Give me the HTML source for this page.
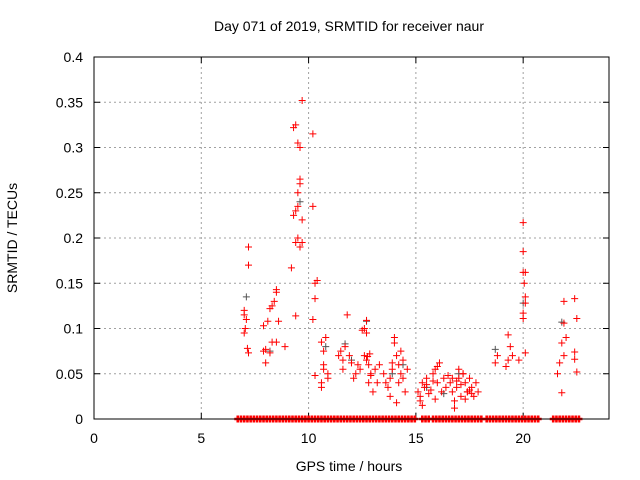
<!DOCTYPE html>
<html><head><meta charset="utf-8"><style>
body{margin:0;background:#fff;}
svg{display:block;font-family:"Liberation Sans",sans-serif;}
</style></head><body>
<svg id="chart" width="640" height="480">
<text x="349" y="31" text-anchor="middle" font-size="14">Day 071 of 2019, SRMTID for receiver naur</text>
<text x="349" y="471" text-anchor="middle" font-size="14">GPS time / hours</text>
<text transform="translate(17,238) rotate(-90)" text-anchor="middle" font-size="14">SRMTID / TECUs</text>
<g id="grid"></g><g id="ticks"></g><g id="grayPts"></g><g id="redPts"></g>
<rect x="94" y="57" width="515" height="362" fill="none" stroke="#000" stroke-width="1"/>
</svg>
<script>
const xTicks=[0,5,10,15,20];
const yTicks=[0,0.05,0.1,0.15,0.2,0.25,0.3,0.35,0.4];
const yTickLabels=["0","0.05","0.1","0.15","0.2","0.25","0.3","0.35","0.4"];
const grayHours=[7.1,9.6,8.2,10.8,11.7,12.7,13.9,14.4,16.3,17.0,18.7,20.0,21.8,12.0,15.5];
const grayValues=[0.135,0.24,0.075,0.08,0.083,0.108,0.05,0.06,0.028,0.05,0.077,0.128,0.107,0.065,0.035];
const redHours=[7.0,7.0,7.05,7.0,7.1,7.2,7.2,7.15,7.2,
7.9,8.0,7.9,8.1,8.2,8.3,8.4,8.5,8.5,8.3,8.5,8.2,8.6,8.9,8.0,
9.2,9.3,9.3,9.4,9.5,9.6,9.7,9.4,9.4,9.5,9.6,9.6,9.5,9.5,9.7,9.6,9.7,9.4,
10.2,10.2,10.2,10.3,10.4,10.3,10.3,
10.6,10.6,10.6,10.8,10.7,10.7,10.9,10.9,10.7,
11.4,11.5,11.6,11.7,11.6,11.8,11.9,12.0,12.1,12.2,12.3,12.4,
12.6,12.7,12.6,12.7,12.8,12.9,12.8,12.9,13.0,13.1,13.2,12.7,12.5,12.75,12.85,
13.3,13.5,13.6,13.7,13.8,13.9,14.0,14.0,14.1,14.2,14.2,14.3,14.4,14.5,14.6,13.8,14.1,14.3,13.9,14.4,
15.1,15.2,15.3,15.4,15.5,15.6,15.7,15.8,15.9,16.0,16.1,16.2,16.3,15.2,15.5,15.8,16.0,16.4,16.5,15.3,15.9,
16.6,16.7,16.8,16.9,17.0,17.1,17.2,17.3,17.4,17.5,17.6,17.7,17.8,17.9,16.8,17.0,17.2,17.4,16.7,17.1,17.3,17.6,16.9,17.5,
18.7,18.8,19.2,19.3,19.4,19.5,19.3,19.8,
20.0,20.0,20.0,20.05,20.1,20.0,20.0,20.1,20.1,20.1,
21.6,21.7,21.8,21.9,22.0,21.8,21.9,21.9,22.4,22.5,22.4,22.5,22.4];
const redValues=[0.12,0.115,0.1,0.095,0.11,0.19,0.17,0.078,0.073,
0.075,0.062,0.103,0.108,0.122,0.125,0.13,0.14,0.143,0.085,0.085,0.073,0.108,0.08,0.077,
0.167,0.225,0.322,0.325,0.305,0.3,0.352,0.195,0.114,0.25,0.26,0.265,0.235,0.2,0.22,0.19,0.195,0.23,
0.315,0.235,0.11,0.15,0.153,0.133,0.048,
0.04,0.035,0.085,0.09,0.075,0.06,0.045,0.05,0.055,
0.07,0.075,0.065,0.08,0.055,0.115,0.07,0.062,0.045,0.05,0.06,0.055,
0.1,0.095,0.07,0.065,0.06,0.05,0.04,0.048,0.03,0.055,0.04,0.109,0.098,0.069,0.072,
0.06,0.05,0.04,0.035,0.045,0.055,0.084,0.09,0.07,0.06,0.04,0.05,0.065,0.03,0.055,0.025,0.018,0.075,0.062,0.045,
0.03,0.02,0.04,0.035,0.045,0.028,0.032,0.05,0.055,0.04,0.062,0.03,0.045,0.025,0.038,0.042,0.058,0.035,0.048,0.015,0.022,
0.04,0.03,0.012,0.035,0.045,0.025,0.05,0.04,0.03,0.045,0.035,0.025,0.04,0.03,0.02,0.055,0.05,0.03,0.045,0.038,0.022,0.028,0.042,0.032,
0.062,0.07,0.058,0.065,0.08,0.07,0.093,0.065,
0.217,0.185,0.162,0.15,0.135,0.117,0.111,0.073,0.162,0.128,
0.05,0.062,0.084,0.07,0.09,0.029,0.106,0.13,0.133,0.111,0.074,0.052,0.066];
const zeroHours=[6.7,6.85,7.0,7.15,7.3,7.45,7.6,7.75,7.9,8.05,8.2,8.35,8.5,8.65,8.8,8.95,9.1,9.25,9.4,9.55,9.7,9.85,10.0,10.15,10.3,10.45,10.6,10.75,10.9,11.05,11.2,11.35,11.5,11.65,11.8,11.95,12.1,12.25,12.4,12.55,12.7,12.85,13.0,13.15,13.3,13.45,13.6,13.75,13.9,14.05,14.2,14.35,14.5,14.65,14.8,14.95,
15.3,15.45,15.6,15.8,15.95,16.1,16.25,16.4,16.55,16.7,16.85,17.0,17.15,17.3,17.45,17.6,17.75,17.9,18.05,
18.3,18.45,18.6,18.75,18.9,19.05,19.2,19.35,19.5,19.65,19.8,19.95,20.1,20.25,20.4,20.55,20.7,
21.4,21.55,21.7,21.85,22.0,22.15,22.3,22.45,22.6];
const X0=94,X1=609,Y0=419,Y1=57,XMAX=24,YMAX=0.4;
const sx=h=>X0+h/XMAX*(X1-X0);
const sy=v=>Y0-v/YMAX*(Y0-Y1);
const NS="http://www.w3.org/2000/svg";
function mk(tag,attrs,parent){const e=document.createElementNS(NS,tag);for(const k in attrs)e.setAttribute(k,attrs[k]);parent.appendChild(e);return e;}
const grid=document.getElementById('grid'),ticks=document.getElementById('ticks');
xTicks.forEach((t,i)=>{const x=sx(t);
 if(t>0){const g=mk('line',{x1:x,x2:x,y1:Y0,y2:Y1,stroke:'#a0a0a0','stroke-dasharray':'2,3'},grid);
 
 }
 mk('line',{x1:x,x2:x,y1:Y0,y2:Y0-6,stroke:'#000'},ticks);
 mk('line',{x1:x,x2:x,y1:Y1,y2:Y1+6,stroke:'#000'},ticks);
 const tx=mk('text',{x:x,y:Y0+24,'text-anchor':'middle','font-size':14},ticks);tx.textContent=t;
 
 });
yTicks.forEach((t,i)=>{const y=sy(t);
 if(t>0&&t<YMAX){const g=mk('line',{x1:X0,x2:X1,y1:y,y2:y,stroke:'#a0a0a0','stroke-dasharray':'2,3'},grid);
 
 }
 mk('line',{x1:X0,x2:X0+6,y1:y,y2:y,stroke:'#000'},ticks);
 mk('line',{x1:X1,x2:X1-6,y1:y,y2:y,stroke:'#000'},ticks);
 const tx=mk('text',{x:X0-11,y:y+5,'text-anchor':'end','font-size':14},ticks);tx.textContent=yTickLabels[i];
 
 });
function plus(h,v,color,parent,name,w){const x=sx(h),y=sy(v);
 const p=mk('path',{d:`M${x-3.5},${y}H${x+3.5}M${x},${y-3.5}V${y+3.5}`,stroke:color,'stroke-width':w,fill:'none'},parent);
 
 }
const gp=document.getElementById('grayPts'),rp=document.getElementById('redPts');
grayHours.forEach((h,i)=>plus(h,grayValues[i],'#555',gp,'gray-point',1));
redHours.forEach((h,i)=>plus(h,redValues[i],'#ff0000',rp,'red-point',1));
zeroHours.forEach(h=>plus(h,0,'#ff0000',rp,'zero-point',2.6));
</script>
</body></html>
